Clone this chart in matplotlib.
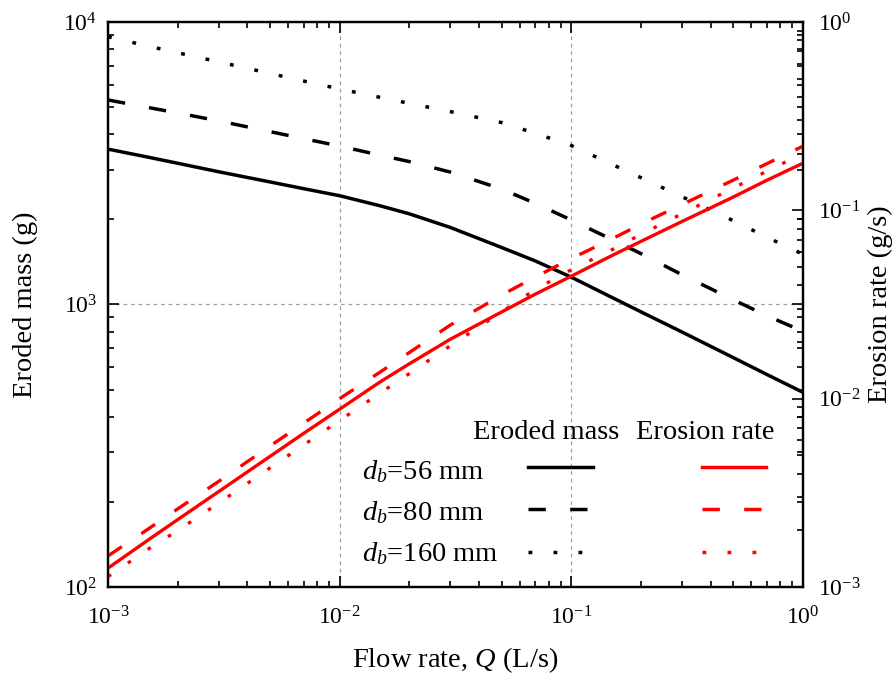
import numpy as np
import matplotlib
matplotlib.use('Agg')
import matplotlib.pyplot as plt
from matplotlib.lines import Line2D

plt.rcParams['font.family'] = ['Liberation Serif', 'DejaVu Serif']
plt.rcParams['mathtext.fontset'] = 'custom'
plt.rcParams['mathtext.rm'] = 'Liberation Serif'
plt.rcParams['mathtext.it'] = 'Liberation Serif:italic'
plt.rcParams['mathtext.bf'] = 'Liberation Serif:bold'
plt.rcParams['axes.unicode_minus'] = False

# flow rate (L/s)
Q = [0.001, 0.0015, 0.002, 0.003, 0.005, 0.007, 0.01, 0.015, 0.02, 0.03,
     0.05, 0.07, 0.1, 0.15, 0.2, 0.3, 0.5, 0.7, 1.0]

# eroded mass (g) for each bed diameter
mass_56 = [3548, 3319, 3162, 2951, 2716, 2570, 2427, 2234, 2094, 1875,
           1592, 1426, 1250, 1059, 942, 800, 649, 565, 489]
mass_80 = [5297, 4977, 4764, 4467, 4093, 3864, 3639, 3373, 3206, 2944,
           2564, 2280, 1991, 1698, 1514, 1276, 1040, 912, 804]
mass_160 = [8872, 8204, 7780, 7228, 6577, 6180, 5794, 5408, 5152, 4819,
            4406, 4036, 3656, 3133, 2812, 2410, 1982, 1730, 1507]

# erosion rate (g/s)
rate_56 = [1.259e-3, 1.786e-3, 2.280e-3, 3.206e-3, 4.932e-3, 6.546e-3, 8.79e-3,
           1.230e-2, 1.531e-2, 2.065e-2, 2.884e-2, 3.589e-2, 4.467e-2,
           5.754e-2, 6.839e-2, 8.71e-2, 0.1175, 0.1445, 0.1778]
rate_80 = [1.462e-3, 2.042e-3, 2.600e-3, 3.631e-3, 5.598e-3, 7.413e-3, 1.0e-2,
           1.387e-2, 1.758e-2, 2.455e-2, 3.548e-2, 4.426e-2, 5.546e-2,
           7.047e-2, 8.453e-2, 0.1072, 0.1445, 0.1770, 0.2188]
rate_160 = [1.135e-3, 1.596e-3, 1.995e-3, 2.786e-3, 4.285e-3, 5.675e-3, 7.656e-3,
            1.074e-2, 1.358e-2, 1.905e-2, 2.884e-2, 3.802e-2, 4.831e-2,
            6.180e-2, 7.447e-2, 9.572e-2, 0.1312, 0.1614, 0.2004]

labels = [r'$d_b$=56 mm', r'$d_b$=80 mm', r'$d_b$=160 mm']
styles = ['-', (0, (5, 7)), (0, (1.1, 6.1))]

fig = plt.figure(figsize=(8.95, 6.75), dpi=100)
ax = fig.add_axes([0.1207, 0.1304, 0.7763, 0.8370])
ax2 = ax.twinx()

for m, ls in zip([mass_56, mass_80, mass_160], styles):
    ax.plot(Q, m, color='black', lw=2.5, linestyle=ls)
for r, ls in zip([rate_56, rate_80, rate_160], styles):
    ax2.plot(Q, r, color='#ff0000', lw=2.4, linestyle=ls)

ax.set_xscale('log')
ax.set_yscale('log')
ax2.set_yscale('log')
ax.set_xlim(1e-3, 1)
ax.set_ylim(1e2, 1e4)
ax2.set_ylim(1e-3, 1)

ax.grid(True, which='major', color='#a0a0a0', lw=0.9, linestyle=(0, (3, 3)))

ax.tick_params(which='both', direction='in', top=True, right=True,
               labelsize=17, width=1.2)
ax.tick_params(which='major', length=8)
ax.tick_params(which='minor', length=4)
ax.tick_params(axis='y', pad=8)
ax.tick_params(axis='x', pad=14)
ax2.tick_params(which='both', direction='in', labelsize=17, width=1.2, pad=11)
ax2.tick_params(which='major', length=8)
ax2.tick_params(which='minor', length=4)

for a in (ax, ax2):
    for s in a.spines.values():
        s.set_linewidth(1.6)

ax.set_xlabel(r'Flow rate, $Q$ (L/s)', fontsize=20.5, labelpad=11)
ax.set_ylabel('Eroded mass (g)', fontsize=20.5, labelpad=18)
ax2.set_ylabel('Erosion rate (g/s)', fontsize=20.5, labelpad=5)

# legend keys: black = eroded mass, red = erosion rate
handles = []
for colour in ('black', '#ff0000'):
    for ls in styles:
        handles.append(Line2D([], [], color=colour, lw=2.5, linestyle=ls))
leg = ax.legend(handles, [''] * 6, ncol=2, frameon=False,
                loc='upper left', bbox_to_anchor=(0.6043, 0.230),
                fontsize=20.5, handlelength=2.28, handletextpad=0,
                columnspacing=3.82, labelspacing=0.58,
                borderpad=0, borderaxespad=0)

# column headers and row labels
ax.text(0.630, 0.2726, 'Eroded mass', transform=ax.transAxes,
        ha='center', va='center', fontsize=20.5)
ax.text(0.860, 0.2726, 'Erosion rate', transform=ax.transAxes,
        ha='center', va='center', fontsize=20.5)
for lab, yf in zip(labels, [0.2040, 0.1310, 0.0584]):
    ax.text(0.365, yf, lab, transform=ax.transAxes,
            ha='left', va='center', fontsize=20.5)

fig.savefig('out.png', dpi=100)
